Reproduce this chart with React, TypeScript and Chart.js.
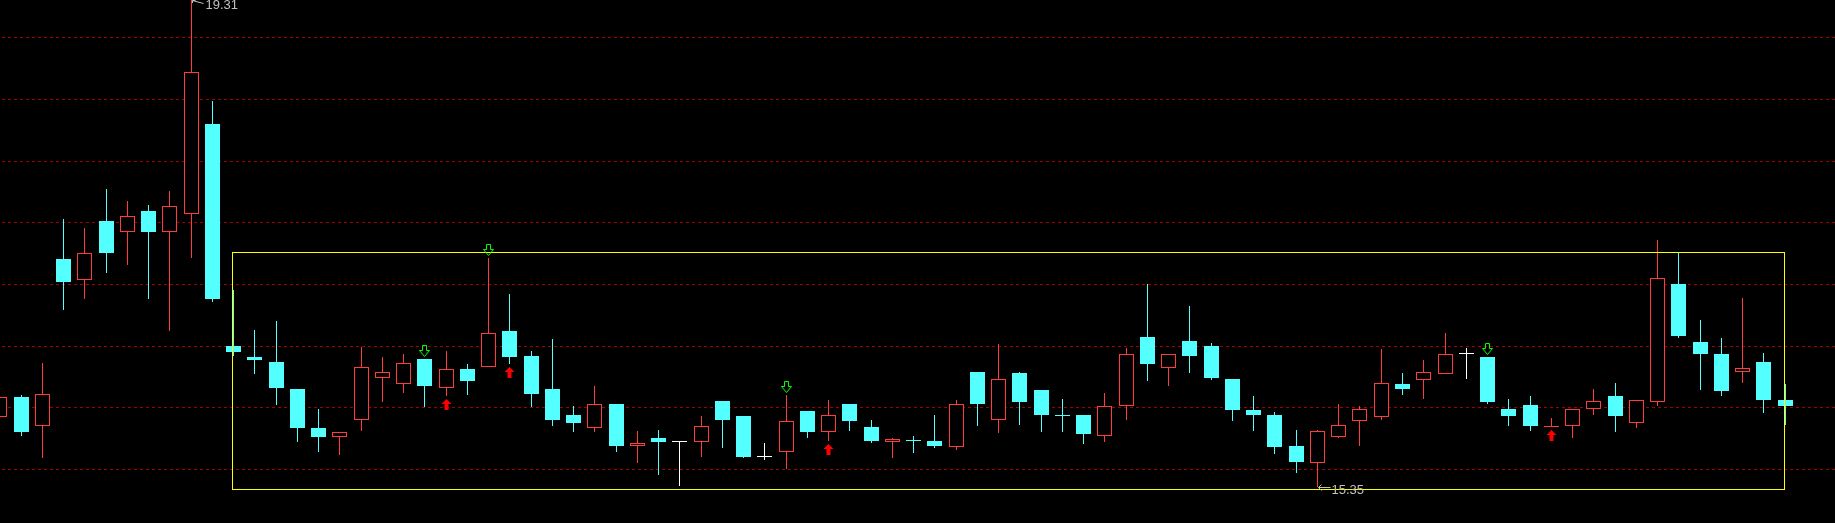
import React, { useEffect, useRef } from "react";
import { Chart, registerables } from "chart.js";

Chart.register(...registerables);

// ---- data ----
const opens = [
  15.92, 16.08, 15.85, 17.2, 17.03, 17.51, 17.42, 17.59, 17.42, 17.57,
  18.3, 16.5, 16.41, 16.37, 16.15, 15.83, 15.76, 15.9, 16.24, 16.19,
  16.39, 16.16, 16.31, 16.33, 16.62, 16.42, 16.15, 15.94, 15.83, 16.03,
  15.69, 15.75, 15.72, 15.72, 16.05, 15.93, 15.6, 15.64, 15.97, 15.8,
  16.03, 15.84, 15.72, 15.73, 15.73, 15.68, 16.29, 15.9, 16.28, 16.14,
  15.93, 15.94, 15.77, 16.01, 16.57, 16.32, 16.54, 16.5, 16.23, 15.98,
  15.94, 15.69, 15.55, 15.76, 15.89, 15.92, 16.19, 16.22, 16.27, 16.43,
  16.41, 15.99, 16.02, 15.84, 15.85, 15.99, 16.09, 15.87, 16.04, 17.0,
  16.53, 16.43, 16.29, 16.37, 16.06,
];
const highs = [
  16.08, 16.1, 16.36, 17.53, 17.45, 17.77, 17.67, 17.64, 17.75, 19.31,
  18.48, 16.95, 16.63, 16.7, 16.15, 15.99, 15.8, 16.49, 16.41, 16.43,
  16.39, 16.46, 16.35, 17.21, 16.92, 16.46, 16.55, 16.01, 16.17, 16.03,
  15.81, 15.82, 15.72, 15.93, 16.05, 15.93, 15.71, 16.1, 15.97, 16.06,
  16.03, 15.9, 15.75, 15.77, 15.94, 16.06, 16.29, 16.51, 16.29, 16.14,
  16.07, 15.94, 16.12, 16.48, 17.0, 16.43, 16.82, 16.52, 16.23, 16.09,
  15.96, 15.82, 15.82, 16.03, 16.01, 16.47, 16.28, 16.38, 16.6, 16.48,
  16.41, 16.07, 16.09, 15.91, 15.99, 16.15, 16.2, 16.06, 17.36, 17.26,
  16.71, 16.56, 16.89, 16.44, 16.19,
];
const lows = [
  15.92, 15.77, 15.59, 16.79, 16.88, 17.09, 17.15, 16.88, 16.62, 17.21,
  16.85, 16.42, 16.27, 16.02, 15.72, 15.64, 15.61, 15.81, 16.04, 16.12,
  16.0, 16.09, 16.1, 16.33, 16.35, 16.0, 15.85, 15.8, 15.8, 15.64,
  15.55, 15.45, 15.36, 15.6, 15.67, 15.59, 15.57, 15.5, 15.75, 15.73,
  15.81, 15.71, 15.59, 15.63, 15.67, 15.65, 15.85, 15.79, 15.86, 15.8,
  15.8, 15.7, 15.72, 15.9, 16.21, 16.17, 16.28, 16.22, 15.89, 15.81,
  15.62, 15.47, 15.35, 15.75, 15.69, 15.9, 16.1, 16.07, 16.27, 16.23,
  16.03, 15.85, 15.81, 15.84, 15.75, 15.94, 15.8, 15.83, 16.01, 16.56,
  16.14, 16.09, 16.2, 15.95, 15.86,
];
const closes = [
  16.08, 15.8, 16.11, 17.02, 17.25, 17.25, 17.55, 17.42, 17.63, 18.72,
  16.88, 16.45, 16.38, 16.16, 15.83, 15.76, 15.8, 16.33, 16.29, 16.36,
  16.17, 16.31, 16.21, 16.6, 16.41, 16.11, 15.9, 15.87, 16.03, 15.69,
  15.71, 15.72, 15.72, 15.85, 15.9, 15.6, 15.6, 15.89, 15.8, 15.94,
  15.89, 15.73, 15.74, 15.73, 15.69, 16.03, 16.03, 16.23, 16.04, 15.94,
  15.93, 15.78, 16.01, 16.43, 16.35, 16.43, 16.42, 16.24, 15.98, 15.94,
  15.68, 15.56, 15.81, 15.86, 15.99, 16.2, 16.15, 16.29, 16.43, 16.43,
  16.04, 15.93, 15.85, 15.85, 15.99, 16.05, 15.93, 16.06, 17.05, 16.58,
  16.43, 16.13, 16.32, 16.06, 16.01,
];
const gridValues = [15.5, 16.0, 16.5, 17.0, 17.5, 18.0, 18.5, 19.0];
const sellSignals = [20, 23, 37, 70];
const buySignals = [21, 24, 39, 73];
const boxRange = [11, 84];
const boxPrices = [15.34, 17.26];

const RED = "#ff3c3c";
const CYAN = "#54ffff";
const WHITE = "#ffffff";

function candleColor(i: number): string {
  if (closes[i] > opens[i]) return RED;
  if (closes[i] < opens[i]) return CYAN;
  const prev = i > 0 ? closes[i - 1] : opens[i];
  if (closes[i] > prev) return RED;
  if (closes[i] < prev) return CYAN;
  return WHITE;
}

export default function App() {
  const ref = useRef<HTMLCanvasElement>(null);

  useEffect(() => {
    document.body.style.margin = "0";
    document.body.style.background = "#000";
    const idx = opens.map((_, i) => i);
    const colors = idx.map(candleColor);

    const overlay = {
      id: "overlay",
      beforeDatasetsDraw(chart: any) {
        // snap the library-computed bar geometry to whole pixels for crisp candles
        chart.getSortedVisibleDatasetMetas().forEach((meta: any) => {
          meta.data.forEach((el: any) => {
            el.x = Math.floor(el.x) + 0.5;
            const a = Math.round(el.y);
            let b = Math.round(el.base);
            if (a === b) b = a + 1;
            el.y = a;
            el.base = b;
          });
        });
        const ctx = chart.ctx;
        const y = chart.scales.y;
        ctx.save();
        ctx.strokeStyle = "#a00000";
        ctx.lineWidth = 1;
        ctx.setLineDash([3, 3]);
        for (const v of gridValues) {
          const py = Math.round(y.getPixelForValue(v)) + 0.5;
          ctx.beginPath();
          ctx.moveTo(2, py);
          ctx.lineTo(chart.width, py);
          ctx.stroke();
        }
        ctx.restore();
      },
      afterDatasetsDraw(chart: any) {
        const ctx = chart.ctx;
        const x = chart.scales.x;
        const y = chart.scales.y;
        ctx.save();
        // yellow range box
        const x0 = Math.floor(x.getPixelForValue(boxRange[0])) - 1 + 0.5;
        const x1 = Math.floor(x.getPixelForValue(boxRange[1])) - 1 + 0.5;
        const y0 = Math.round(y.getPixelForValue(boxPrices[1])) + 0.5;
        const y1 = Math.round(y.getPixelForValue(boxPrices[0])) + 0.5;
        ctx.strokeStyle = "#ffff00";
        ctx.lineWidth = 1;
        ctx.strokeRect(x0, y0, x1 - x0, y1 - y0);

        // sell signals: hollow green down arrows above the high
        ctx.strokeStyle = "#00ff00";
        for (const i of sellSignals) {
          const cx = Math.floor(x.getPixelForValue(i)) + 0.5;
          const tip = Math.round(y.getPixelForValue(highs[i])) - 3 + 0.5;
          ctx.beginPath();
          ctx.moveTo(cx - 2, tip - 11);
          ctx.lineTo(cx + 2, tip - 11);
          ctx.lineTo(cx + 2, tip - 6);
          ctx.lineTo(cx + 5, tip - 6);
          ctx.lineTo(cx, tip);
          ctx.lineTo(cx - 5, tip - 6);
          ctx.lineTo(cx - 2, tip - 6);
          ctx.closePath();
          ctx.stroke();
        }
        // buy signals: filled red up arrows below the low
        ctx.fillStyle = "#ff0000";
        for (const i of buySignals) {
          const cx = Math.floor(x.getPixelForValue(i)) + 0.5;
          const tip = Math.round(y.getPixelForValue(lows[i])) + 3;
          ctx.beginPath();
          ctx.moveTo(cx, tip);
          ctx.lineTo(cx + 5, tip + 5);
          ctx.lineTo(cx + 2, tip + 5);
          ctx.lineTo(cx + 2, tip + 11);
          ctx.lineTo(cx - 2, tip + 11);
          ctx.lineTo(cx - 2, tip + 5);
          ctx.lineTo(cx - 5, tip + 5);
          ctx.closePath();
          ctx.fill();
        }

        // max / min labels
        let hi = 0;
        let lo = 0;
        idx.forEach((i) => {
          if (highs[i] > highs[hi]) hi = i;
          if (lows[i] < lows[lo]) lo = i;
        });
        ctx.strokeStyle = "#c0c0c0";
        ctx.fillStyle = "#c0c0c0";
        ctx.lineWidth = 1;
        ctx.font = '13px "Liberation Sans", Arial, sans-serif';
        ctx.textBaseline = "alphabetic";
        // high label
        const hx = Math.floor(x.getPixelForValue(hi)) + 0.5;
        const hy = Math.round(y.getPixelForValue(highs[hi]));
        ctx.beginPath();
        ctx.moveTo(hx + 1, hy + 1.5);
        ctx.lineTo(hx + 12, hy + 4.5);
        ctx.moveTo(hx + 1, hy + 1.5);
        ctx.lineTo(hx + 4, hy + 1.5);
        ctx.moveTo(hx + 1, hy + 1.5);
        ctx.lineTo(hx + 1, hy + 4);
        ctx.stroke();
        ctx.fillText(highs[hi].toFixed(2), hx + 14, hy + 10);
        // low label
        const lx = Math.floor(x.getPixelForValue(lo)) + 0.5;
        const ly = Math.round(y.getPixelForValue(lows[lo])) + 0.5;
        ctx.beginPath();
        ctx.moveTo(lx + 1, ly);
        ctx.lineTo(lx + 13, ly);
        ctx.moveTo(lx + 1, ly);
        ctx.lineTo(lx + 4, ly - 3);
        ctx.moveTo(lx + 1, ly);
        ctx.lineTo(lx + 4, ly + 3);
        ctx.stroke();
        ctx.fillText(lows[lo].toFixed(2), lx + 14, ly + 6);
        ctx.restore();
      },
    };

    const chart = new Chart(ref.current as HTMLCanvasElement, {
      type: "bar",
      data: {
        datasets: [
          {
            label: "body",
            data: idx.map((i) => ({ x: i, y: [opens[i], closes[i]] })) as any,
            barThickness: 15,
            minBarLength: 1,
            backgroundColor: idx.map((i) => (colors[i] === RED ? "#000000" : colors[i])),
            borderColor: colors,
            borderWidth: idx.map((i) => (colors[i] === RED ? 1 : 0)),
            borderSkipped: false,
            grouped: false,
            inflateAmount: 0,
            order: 0,
          } as any,
          {
            label: "wick",
            data: idx.map((i) => ({ x: i, y: [lows[i], highs[i]] })) as any,
            barThickness: 1,
            backgroundColor: colors,
            borderWidth: 0,
            grouped: false,
            inflateAmount: 0,
            order: 1,
          } as any,
        ],
      },
      options: {
        responsive: false,
        animation: false,
        events: [],
        layout: { padding: 0 },
        plugins: { legend: { display: false }, tooltip: { enabled: false } },
        scales: {
          x: { type: "linear", display: false, min: 0.0094, max: 86.35, offset: false },
          y: { type: "linear", display: false, min: 15.062, max: 19.3024 },
        },
      },
      plugins: [overlay],
    });
    return () => chart.destroy();
  }, []);

  return (
    <div style={{ position: "fixed", left: 0, top: 0, width: 1835, height: 523, background: "#000" }}>
      <canvas ref={ref} width={1835} height={523} style={{ display: "block" }} />
    </div>
  );
}
